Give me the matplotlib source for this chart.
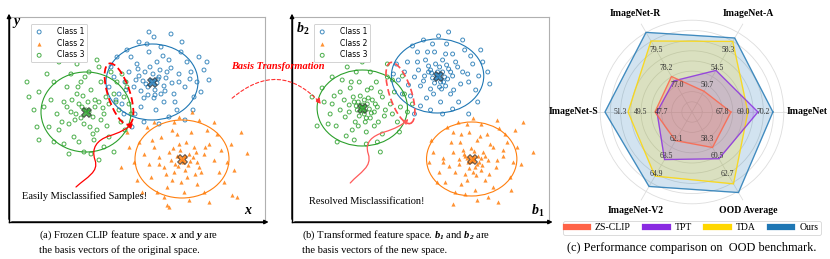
import numpy as np
import matplotlib
matplotlib.use("Agg")
import matplotlib.pyplot as plt
from matplotlib.patches import Ellipse, FancyArrowPatch
from matplotlib.path import Path
from matplotlib.lines import Line2D

plt.rcParams['font.family'] = ['Liberation Serif', 'DejaVu Serif']
plt.rcParams['mathtext.fontset'] = 'custom'
plt.rcParams['mathtext.rm'] = 'Liberation Serif'
plt.rcParams['mathtext.it'] = 'Liberation Serif:italic'
plt.rcParams['mathtext.bf'] = 'Liberation Serif:bold'
plt.rcParams['mathtext.bfit'] = 'Liberation Serif:italic:bold'

# ---------------- scatter data (panel pixel units, y up) ----------------
class_names = ['Class 1', 'Class 2', 'Class 3']
class_colors = ['#1f77b4', '#ff7f0e', '#2ca02c']

a_c1 = [(143,141),(150,145),(137,138),(146,132),(158,150),(130,146),(141,155),(152,128),(125,135),(163,139),
        (135,124),(148,160),(120,150),(170,148),(155,120),(128,158),(140,170),(165,128),(116,140),(176,135),
        (132,115),(160,162),(110,128),(182,150),(147,112),(122,165),(172,170),(105,145),(188,140),(138,178),
        (168,112),(113,118),(185,125),(152,175),(126,108),(195,152),(100,135),(178,160),(135,100),(160,105),
        (118,172),(190,165),(107,122),(150,98),(200,142),(130,180),(173,180),(102,155),(184,112),(145,185),
        (115,108),(192,130),(162,188),(123,95),(198,160),(140,190),(108,165),(176,102),(155,136),(144,148),
        (136,150),(148,139),(156,131),(132,131),(162,154),(127,142),(151,152),(139,127),(170,140),(145,124),
        (117,132),(181,143),(154,166),(129,153),(166,120),(149,143),(139,135),(157,144),(134,141),(146,127)]
a_c2 = [(173,63),(180,68),(166,58),(176,52),(160,70),(188,60),(170,78),(155,55),(185,75),(178,45),
        (163,42),(195,68),(150,65),(168,88),(192,50),(145,75),(182,90),(158,35),(200,78),(140,58),
        (175,30),(205,62),(152,85),(188,38),(135,68),(165,100),(198,92),(210,50),(142,45),(180,22),
        (130,80),(212,72),(155,25),(195,30),(138,95),(208,88),(125,60),(170,105),(218,60),(148,30),
        (190,102),(128,42),(215,40),(160,15),(200,20),(120,75),(222,78),(145,100),(183,110),(225,52),
        (174,60),(168,66),(179,57),(162,62),(184,65),(171,72),(157,48),(190,55),(165,50),(177,80),
        (150,58),(196,75),(172,40),(186,48),(143,82),(238,69),(223,27),(158,17),(112,55),(232,90),
        (205,100),(133,30),(118,90),(228,25),(163,92),(176,66),(169,56),(181,61),(164,74),(187,70)]
a_c3 = [(77,112),(70,118),(84,105),(62,110),(90,120),(75,98),(68,128),(95,108),(55,120),(82,132),
        (60,98),(100,118),(72,140),(88,92),(48,108),(105,128),(65,85),(92,140),(42,122),(110,112),
        (58,135),(98,96),(80,150),(50,92),(115,125),(70,80),(35,115),(108,140),(85,82),(45,140),
        (120,118),(62,148),(100,85),(30,130),(112,100),(75,70),(40,95),(118,135),(90,155),(55,78),
        (25,112),(95,75),(68,158),(122,108),(38,148),(105,70),(50,160),(113,148),(82,68),(28,95),
        (116,92),(60,68),(88,162),(20,125),(102,150),(72,104),(79,120),(66,102),(86,115),(74,126),
        (92,102),(58,115),(81,95),(69,135),(97,125),(63,122),(84,88),(107,120),(53,100),(76,145),
        (117,140),(45,80),(18,140),(30,82),(90,62),(80,110),(73,115),(86,122),(67,108),(94,114)]

b_c1 = [(145,147),(150,150),(140,144),(148,140),(156,153),(136,150),(143,158),(153,136),(131,141),(160,146),
        (138,133),(150,162),(126,152),(165,155),(158,128),(133,162),(142,170),(168,138),(122,145),(175,148),
        (134,124),(160,168),(116,137),(180,158),(148,120),(125,170),(172,172),(112,150),(186,146),(140,178),
        (166,120),(118,126),(183,132),(154,178),(128,116),(190,160),(106,142),(178,166),(138,112),(160,113),
        (120,176),(188,172),(110,128),(150,108),(195,150),(131,182),(170,182),(104,158),(185,120),(146,186),
        (145,150),(152,145),(139,149),(147,155),(155,143),(142,139),(136,156),(158,150),(149,133),(132,146),
        (163,160),(128,136),(153,168),(141,128),(170,150),(125,160),(161,132),(135,170),(176,140),(115,160),
        (197,138),(101,148),(176,108),(156,190),(122,108),(144,144),(151,140),(138,152),(154,157),(147,135)]
b_c2 = [(180,63),(185,66),(175,60),(182,55),(190,70),(171,68),(178,74),(188,52),(166,58),(195,62),
        (172,48),(184,82),(160,70),(200,75),(192,42),(167,80),(176,90),(203,55),(156,56),(210,66),
        (168,38),(194,88),(150,64),(214,80),(182,32),(160,90),(206,94),(146,50),(220,60),(174,98),
        (200,35),(152,40),(217,45),(188,98),(162,30),(224,75),(140,70),(212,88),(172,28),(195,25),
        (154,95),(222,92),(144,40),(184,22),(228,58),(165,100),(204,102),(138,82),(218,32),(180,104),
        (180,65),(186,60),(174,64),(181,71),(189,57),(176,54),(170,72),(192,66),(183,47),(166,63),
        (197,78),(162,50),(187,86),(174,42),(204,62),(158,80),(196,48),(168,88),(210,72),(150,60),
        (240,70),(230,100),(136,60),(205,20),(160,18),(178,61),(184,58),(172,66),(188,64),(180,50)]
b_c3 = [(70,115),(75,118),(65,112),(72,108),(80,122),(62,120),(68,126),(78,104),(57,110),(85,115),
        (63,100),(75,132),(52,122),(90,125),(82,96),(58,134),(67,140),(92,106),(48,112),(98,118),
        (60,92),(84,140),(42,126),(102,130),(74,90),(50,142),(95,145),(38,108),(108,115),(64,150),
        (90,88),(44,96),(105,100),(78,150),(54,86),(112,128),(32,120),(100,142),(62,82),(85,80),
        (40,145),(110,146),(36,98),(74,78),(115,110),(55,155),(95,158),(30,134),(107,90),(70,160),
        (70,117),(77,113),(64,116),(72,122),(79,109),(67,106),(61,125),(83,118),(73,100),(57,117),
        (88,130),(53,105),(79,134),(66,96),(93,112),(48,130),(86,100),(59,140),(100,108),(40,118),
        (20,125),(25,96),(120,118),(45,80),(88,70),(71,111),(76,124),(66,120),(82,110),(74,104)]

# cluster centres and ellipse half-axes
a_centers = [(143,140), (173,63), (77,110)]
a_radii = [(46,38), (47,39), (45,40)]
b_centers = [(145,146), (179,63), (70,114)]
b_radii = [(46,37), (45,37), (45,38)]

# ---------------- radar data ----------------
radar_axes = ['ImageNet', 'ImageNet-A', 'ImageNet-R', 'ImageNet-S', 'ImageNet-V2', 'OOD Average']
axis_ticks = [['67.8','69.0','70.2'], ['50.7','54.5','58.3'], ['77.0','78.2','79.5'],
              ['47.7','49.5','51.3'], ['62.1','63.5','64.9'], ['58.3','60.5','62.7']]
methods = ['ZS-CLIP', 'TPT', 'TDA', 'Ours']
method_colors = ['#ff6347', '#8a2be2', '#ffd700', '#1f77b4']
zs_clip = [68.29, 49.47, 77.64, 48.27, 62.27, 59.42]
tpt = [69.88, 53.95, 77.33, 48.09, 63.77, 60.82]
tda = [69.29, 60.18, 80.15, 50.64, 65.08, 63.95]
ours = [70.76, 60.92, 80.76, 52.68, 65.90, 65.03]

fig = plt.figure(figsize=(8.3, 2.59), dpi=100)
W, H = 830.0, 259.0


def draw_panel(ax, pts, centers, radii, lab_x, lab_y, xlab_pos, ylab_pos):
    ax.set_xlim(0, 256)
    ax.set_ylim(0, 205)
    ax.set_xticks([])
    ax.set_yticks([])
    for s in ['top', 'right']:
        ax.spines[s].set_color('#b0b0b0')
        ax.spines[s].set_linewidth(0.8)
    for s in ['left', 'bottom']:
        ax.spines[s].set_color('black')
        ax.spines[s].set_linewidth(1.0)
    ax.annotate('', xy=(0, 1.03), xytext=(0, 0), xycoords='axes fraction',
                arrowprops=dict(arrowstyle='-|>', color='black', lw=1.0, mutation_scale=6),
                annotation_clip=False)
    ax.annotate('', xy=(1.025, 0), xytext=(0, 0), xycoords='axes fraction',
                arrowprops=dict(arrowstyle='-|>', color='black', lw=1.0, mutation_scale=6),
                annotation_clip=False)
    markers = ['o', '^', 'o']
    for i in range(3):
        p = np.array(pts[i])
        if markers[i] == '^':
            ax.scatter(p[:, 0], p[:, 1], s=9, marker='^', color=class_colors[i],
                       alpha=0.85, linewidths=0, label=class_names[i])
        else:
            ax.scatter(p[:, 0], p[:, 1], s=8, marker='o', facecolors='none',
                       edgecolors=class_colors[i], linewidths=0.7, alpha=0.85,
                       label=class_names[i])
    for i in range(3):
        ax.add_patch(Ellipse(centers[i], 2 * radii[i][0], 2 * radii[i][1],
                             fill=False, color=class_colors[i], lw=0.8))
        ax.scatter([centers[i][0]], [centers[i][1]], s=50, marker='X',
                   facecolor=class_colors[i], edgecolor='#333333', linewidths=0.7,
                   alpha=0.8, zorder=5)
    leg = ax.legend(loc='upper left', bbox_to_anchor=(0.07, 0.985),
                    prop={'family': 'DejaVu Sans', 'size': 5.5},
                    handletextpad=1.6, labelspacing=0.35, borderpad=0.4,
                    handlelength=1.4, fancybox=True, framealpha=1)
    leg.get_frame().set_edgecolor('#cccccc')
    leg.get_frame().set_linewidth(0.6)
    ax.text(ylab_pos[0], ylab_pos[1], lab_y, fontsize=10, ha='center', va='center')
    ax.text(xlab_pos[0], xlab_pos[1], lab_x, fontsize=10, ha='center', va='center')


# panel (a)
ax1 = fig.add_axes([9 / W, 37 / H, 256 / W, 205 / H])
draw_panel(ax1, [a_c1, a_c2, a_c3], a_centers, a_radii,
           r'$\mathbfit{x}$', r'$\mathbfit{y}$', (239, 12), (8, 199))
ax1.add_patch(Ellipse((110, 128), 22, 64, angle=18, fill=False, color='red',
                      lw=1.3, ls=(0, (4, 2))))
va = [(67, 35), (78, 45), (90, 50), (86, 62), (82, 74), (88, 82), (100, 86),
      (110, 89), (118, 93), (124, 99)]
vc = [Path.MOVETO] + [Path.CURVE4] * 9
ax1.add_patch(FancyArrowPatch(path=Path(va, vc), arrowstyle='-|>', mutation_scale=7,
                              color='red', lw=0.9))
ax1.text(13, 26, 'Easily Misclassified Samples!', fontsize=7.5, ha='left', va='center')

# panel (b)
ax2 = fig.add_axes([292 / W, 37 / H, 257 / W, 205 / H])
draw_panel(ax2, [b_c1, b_c2, b_c3], b_centers, b_radii,
           r'$\mathbfit{b}_\mathbf{1}$', r'$\mathbfit{b}_\mathbf{2}$', (245, 11), (11, 193))
ax2.add_patch(Ellipse((108, 129), 22, 64, angle=18, fill=False, color='#ff4d4d',
                      lw=1.2, ls=(0, (4, 2))))
vb = [(58, 39), (68, 50), (80, 55), (76, 68), (72, 80), (80, 86), (92, 90),
      (102, 93), (110, 97), (116, 103)]
ax2.add_patch(FancyArrowPatch(path=Path(vb, vc), arrowstyle='-|>', mutation_scale=7,
                              color='#ff5a5a', lw=0.9))
ax2.text(17, 21, 'Resolved Misclassification!', fontsize=7.5, ha='left', va='center')

# basis transformation arrow across panels
arr = FancyArrowPatch((230 / W, 1 - 100 / H), (323 / W, 1 - 106 / H),
                      transform=fig.transFigure, connectionstyle='arc3,rad=-0.5',
                      arrowstyle='-|>', mutation_scale=8, color='#ff3030', lw=0.8,
                      ls=(0, (3, 2)))
fig.patches.append(arr)
fig.text(278 / W, 1 - 67 / H, 'Basis Transformation', color='red', fontsize=7.5,
         fontweight='bold', style='italic', ha='center', va='center')

# captions
fig.text(39 / W, 1 - 235 / H, r'(a) Frozen CLIP feature space. $\mathbfit{x}$ and $\mathbfit{y}$ are',
         fontsize=7.6, ha='left', va='center')
fig.text(39 / W, 1 - 250 / H, 'the basis vectors of the original space.',
         fontsize=7.6, ha='left', va='center')
fig.text(302 / W, 1 - 235 / H,
         r'(b) Transformed feature space. $\mathbfit{b}_\mathbfit{1}$ and $\mathbfit{b}_\mathbfit{2}$ are',
         fontsize=7.6, ha='left', va='center')
fig.text(302 / W, 1 - 250 / H, 'the basis vectors of the new space.',
         fontsize=7.6, ha='left', va='center')

# panel (c) radar
R = 102
ax3 = fig.add_axes([(692 - R) / W, (259 - 112 - R) / H, 2 * R / W, 2 * R / H], polar=True)
angles = np.deg2rad(np.arange(0, 360, 60))
lo = np.array([float(t[0]) for t in axis_ticks])
hi = np.array([float(t[2]) for t in axis_ticks])


def to_r(vals):
    return 0.3 + (np.array(vals) - lo) / (hi - lo) * 0.4


series = [zs_clip, tpt, tda, ours]
for k in [3, 2, 1, 0]:
    r = to_r(series[k])
    ang = np.append(angles, angles[0])
    rr = np.append(r, r[0])
    ax3.fill(ang, rr, color=method_colors[k], alpha=0.2, zorder=2)
    ax3.plot(ang, rr, color=method_colors[k], lw=0.9, alpha=0.8, zorder=3)

ax3.set_ylim(0, 1)
ax3.set_yticks(np.arange(0.1, 0.95, 0.1))
ax3.set_yticklabels([])
ax3.set_xticks(angles)
ax3.set_xticklabels([])
ax3.grid(color='#dddddd', lw=0.6)
ax3.spines['polar'].set_visible(False)
ax3.set_facecolor('none')

for i in range(6):
    for j, rt in enumerate([0.3, 0.5, 0.7]):
        ax3.text(angles[i], rt, axis_ticks[i][j], fontsize=5.5, color='#333333',
                 ha='center', va='center', zorder=6)

label_pos = [(0.93, 'left'), (1.11, 'center'), (1.11, 'center'),
             (0.92, 'right'), (1.11, 'center'), (1.11, 'center')]
for i in range(6):
    ax3.text(angles[i], label_pos[i][0], radar_axes[i], fontsize=7, fontweight='bold',
             ha=label_pos[i][1], va='center')

handles = [Line2D([0], [0], color=c, lw=4.5) for c in method_colors]
leg = fig.legend(handles, methods, loc='center', bbox_to_anchor=(692 / W, 1 - 228 / H),
                 ncol=4, fontsize=7, handlelength=2.3, columnspacing=1.5,
                 handletextpad=0.7, borderpad=0.25, fancybox=True)
leg.get_frame().set_edgecolor('#cccccc')
leg.get_frame().set_linewidth(0.6)
fig.text(692 / W, 1 - 248 / H, '(c) Performance comparison on  OOD benchmark.',
         fontsize=8.8, ha='center', va='center')

fig.savefig('out.png', dpi=100)
